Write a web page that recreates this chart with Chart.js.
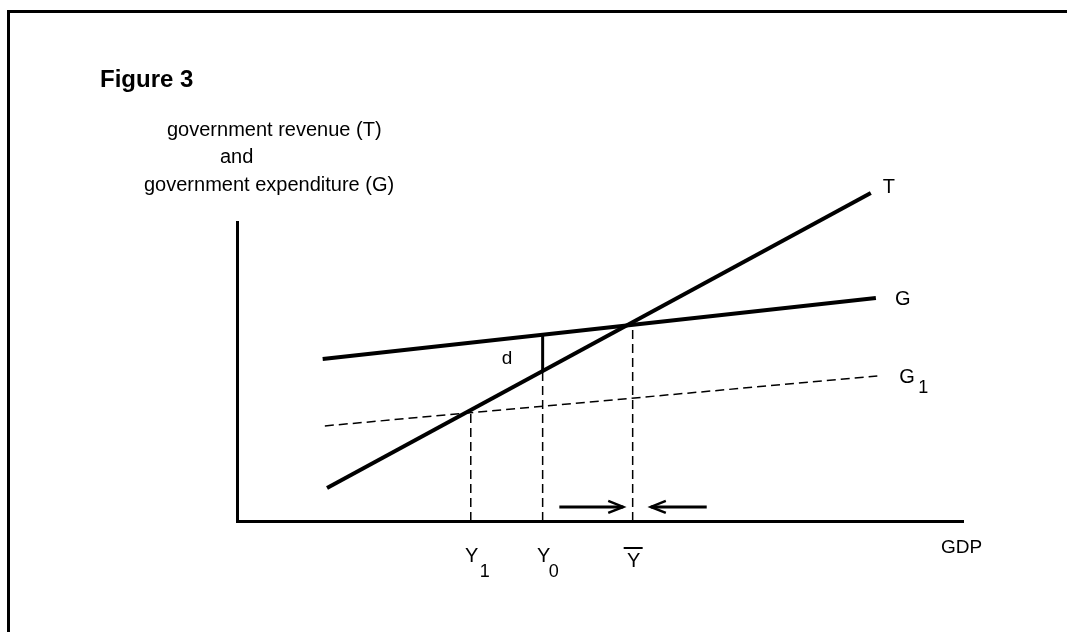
<!DOCTYPE html>
<html>
<head>
<meta charset="utf-8">
<script src="https://cdn.jsdelivr.net/npm/chart.js@4"></script>
<style>
	body { margin: 0; background: #fff; }
	#wrap { position: relative; width: 1067px; height: 632px; overflow: hidden; }
	#frame { position: absolute; left: 7px; top: 10px; right: -10px; bottom: -10px;
		border-left: 3px solid #000; border-top: 3px solid #000; pointer-events: none; }
</style>
</head>
<body>
<div id="wrap">
	<canvas id="myChart" width="1067" height="632"></canvas>
	<div id="frame"></div>
</div>
<script>
// line end points (GDP on x, T / G on y)
const gdpT = [12.4, 87.3],
	revT = [11.0, 109.7];
const gdpG = [11.8, 88.0],
	expG = [54.2, 74.6];
const gdpG1 = [12.1, 88.2],
	expG1 = [31.8, 48.5];

// Y1, Y0, Ybar and where their dashed drop lines start
const markNames = ['Y1', 'Y0', 'Ybar'],
	markX = [32.2, 42.1, 54.5],
	markTop = [36.5, 50.3, 65.9];

// the gap d between G and T at Y0
const gapX = 42.1,
	gapY = [50.3, 62.3];

// adjustment arrows along the GDP axis
const arrowFrom = [44.4, 64.7],
	arrowTo = [53.2, 57.0],
	arrowY = 4.7;

const FONT = '"Liberation Sans", Arial, sans-serif';

function pts(xs, ys){
	return xs.map((x, i) => ({x: x, y: ys[i]}));
}

function seg(color, width, dash, data){
	return {
		data: data,
		showLine: true,
		borderColor: color,
		borderWidth: width,
		borderDash: dash,
		pointRadius: 0,
		clip: false,
		borderCapStyle: 'butt'
	};
}

function getChartData(){
	let sets = [
		seg('#000', 4, [], pts(gdpT, revT)),
		seg('#000', 4, [], pts(gdpG, expG)),
		seg('#000', 1.5, [9, 5], pts(gdpG1, expG1)),
		seg('#000', 3, [], [{x: gapX, y: gapY[0]}, {x: gapX, y: gapY[1]}])
	];
	markX.forEach((x, i)=>{
		sets.push(seg('#000', 1.5, [9, 5], [{x: x, y: 0}, {x: x, y: markTop[i]}]));
	});
	arrowFrom.forEach((x, i)=>{
		sets.push(seg('#000', 3, [], [{x: x, y: arrowY}, {x: arrowTo[i], y: arrowY}]));
	});
	return { datasets: sets };
}

// text, arrow heads and labels
const annotate = {
	id: 'annotate',
	afterDatasetsDraw(chart){
		const c = chart.ctx,
			xs = chart.scales.x,
			ys = chart.scales.y,
			px = v => xs.getPixelForValue(v),
			py = v => ys.getPixelForValue(v);
		c.save();
		c.fillStyle = '#000';
		c.strokeStyle = '#000';
		c.textBaseline = 'alphabetic';

		c.font = 'bold 24px ' + FONT;
		c.fillText('Figure 3', 100, 87);
		c.font = '20px ' + FONT;
		c.fillText('government revenue (T)', 167, 136);
		c.fillText('and', 220, 163);
		c.fillText('government expenditure (G)', 144, 191);

		// arrow heads
		c.lineWidth = 2.5;
		arrowTo.forEach((x, i)=>{
			const dir = Math.sign(x - arrowFrom[i]),
				hx = px(x), hy = py(arrowY);
			c.beginPath();
			c.moveTo(hx - dir * 15, hy - 6);
			c.lineTo(hx, hy);
			c.lineTo(hx - dir * 15, hy + 6);
			c.stroke();
		});

		// line labels
		c.font = '20px ' + FONT;
		c.fillText('T', px(gdpT[1]) + 12, py(revT[1]));
		c.fillText('G', px(gdpG[1]) + 19, py(expG[1]) + 7);
		c.fillText('G', px(gdpG1[1]) + 22, py(expG1[1]) + 7);
		c.font = '18px ' + FONT;
		c.fillText('1', px(gdpG1[1]) + 41, py(expG1[1]) + 17);
		c.font = '19px ' + FONT;
		c.fillText('d', px(gapX) - 41, py((gapY[0] + gapY[1]) / 2) + 11);

		// GDP axis marks
		const base = py(0);
		c.font = '20px ' + FONT;
		c.textAlign = 'center';
		markNames.forEach((n, i)=>{
			const x = px(markX[i]);
			if (n === 'Ybar'){
				c.fillText('Y', x + 1, base + 46);
				c.lineWidth = 2;
				c.beginPath();
				c.moveTo(x - 9, base + 27);
				c.lineTo(x + 10, base + 27);
				c.stroke();
			} else {
				c.fillText('Y', x + 1, base + 41);
				c.textAlign = 'left';
				c.font = '18px ' + FONT;
				c.fillText(n.slice(1), x + (n === 'Y1' ? 9 : 6), base + 56);
				c.font = '20px ' + FONT;
				c.textAlign = 'center';
			}
		});
		c.textAlign = 'left';
		c.font = '19px ' + FONT;
		c.fillText('GDP', 941, base + 32);
		c.restore();
	}
};

function axisOpts(min, max){
	return {
		type: 'linear',
		min: min,
		max: max,
		grid: { display: false, drawTicks: false },
		ticks: { display: false },
		border: { display: true, color: '#000', width: 3 }
	};
}

const ctx = document.getElementById('myChart');
const myChart = new Chart(ctx, {
	type: 'scatter',
	data: getChartData(),
	options: {
		responsive: false,
		animation: false,
		layout: { padding: { left: 237, right: 104, top: 222, bottom: 111 } },
		plugins: { legend: { display: false }, tooltip: { enabled: false } },
		scales: { x: axisOpts(0, 100), y: axisOpts(0, 100) }
	},
	plugins: [annotate]
});
</script>
</body>
</html>
